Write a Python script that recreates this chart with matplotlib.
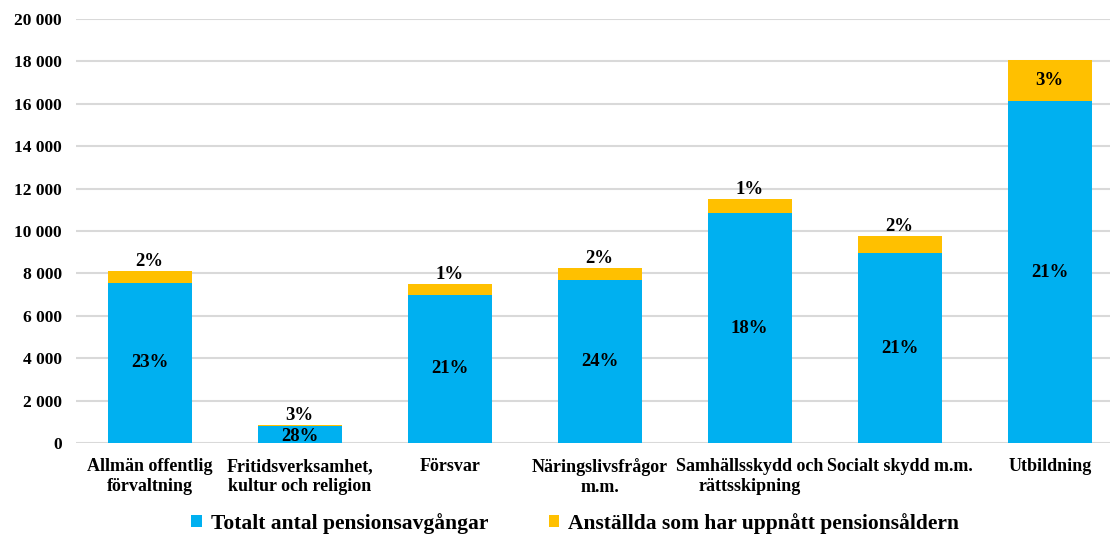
import matplotlib.pyplot as plt
import numpy as np

plt.rcParams['font.family'] = ['Liberation Serif', 'DejaVu Serif']
plt.rcParams['font.weight'] = 'bold'

# Data
categories = ['Allmän offentlig\nförvaltning', 'Fritidsverksamhet,\nkultur och religion',
              'Försvar', 'Näringslivsfrågor\nm.m.', 'Samhällsskydd och\nrättsskipning',
              'Socialt skydd m.m.', 'Utbildning']
totalt = [7550, 800, 6980, 7690, 10830, 8950, 16130]
uppnatt = [560, 50, 510, 550, 680, 810, 1940]
totalt_pct = ['23%', '28%', '21%', '24%', '18%', '21%', '21%']
uppnatt_pct = ['2%', '3%', '1%', '2%', '1%', '2%', '3%']

blue = '#00B0F0'
yellow = '#FFC000'

fig = plt.figure(figsize=(11.12, 5.35), dpi=100)
ax = fig.add_axes([0.068, 0.172, 0.93, 0.7925])

x = np.arange(len(categories))
w = 0.56
ax.bar(x, totalt, w, color=blue, label='Totalt antal pensionsavgångar', zorder=3)
ax.bar(x, uppnatt, w, bottom=totalt, color=yellow,
       label='Anställda som har uppnått pensionsåldern', zorder=3)

for i in range(len(x)):
    # label inside blue part
    if totalt[i] > 2000:
        ax.text(x[i], totalt[i] / 2, totalt_pct[i], ha='center', va='center',
                fontsize=13.5, fontweight='bold', zorder=4)
    else:
        ax.text(x[i], totalt[i] / 2 - 80, totalt_pct[i], ha='center', va='center',
                fontsize=13.5, fontweight='bold', zorder=4)
    top = totalt[i] + uppnatt[i]
    if i == len(x) - 1:
        ax.text(x[i], top - uppnatt[i] / 2, uppnatt_pct[i], ha='center', va='center',
                fontsize=13.5, fontweight='bold', zorder=4)
    else:
        ax.text(x[i], top + 60, uppnatt_pct[i], ha='center', va='bottom',
                fontsize=13.5, fontweight='bold', zorder=4)

ax.set_ylim(0, 20000)
ax.set_xlim(-0.493, 6.4)
ax.set_yticks(np.arange(0, 20001, 2000))
ax.set_yticklabels([f'{v:,}'.replace(',', ' ') for v in range(0, 20001, 2000)],
                   fontsize=12.5, fontweight='bold')
ax.set_xticks(x)
ax.set_xticklabels(categories, fontsize=13, fontweight='bold', linespacing=1.2)
ax.tick_params(axis='both', length=0)
ax.tick_params(axis='y', pad=10)
ax.tick_params(axis='x', pad=11)
ax.yaxis.grid(True, color='#d9d9d9', linewidth=1.5, zorder=0)
for s in ax.spines.values():
    s.set_visible(False)

ax.legend(loc='center', bbox_to_anchor=(0.483, -0.19), ncol=2, frameon=False,
          prop={'family': ['Liberation Serif'], 'weight': 'bold', 'size': 15.5},
          handlelength=0.5, handleheight=0.5, handletextpad=0.4, columnspacing=2.8,
          borderpad=0.1)

fig.savefig('out.png', dpi=100)
